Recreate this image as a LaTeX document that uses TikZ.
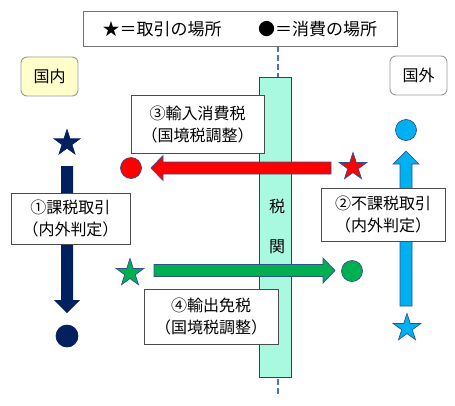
\documentclass[tikz,border=0pt]{standalone}
\usepackage{fontspec}
\setmainfont{Noto Sans CJK JP}
\usetikzlibrary{shapes.geometric}
\definecolor{navy}{HTML}{002060}
\definecolor{redf}{HTML}{FF0000}
\definecolor{greenf}{HTML}{00B050}
\definecolor{bluef}{HTML}{00B0F0}
\definecolor{outl}{HTML}{2F528F}
\definecolor{custf}{HTML}{A9F8E0}
\definecolor{dashc}{HTML}{4472C4}
\definecolor{yelf}{HTML}{FFFFCC}
\tikzset{
  txtbox/.style={draw=black!70, line width=0.9pt, fill=white},
  lbl/.style={font=\fontsize{16}{22}\selectfont, align=center, inner sep=0pt},
  starn/.style={star, star points=5, star point ratio=2.6, minimum size=29pt, inner sep=0pt, draw=outl, line width=0.7pt},
  dotn/.style={circle, minimum size=21pt, inner sep=0pt, draw=outl, line width=0.7pt},
  region/.style={draw=black!40, line width=0.9pt, rounded corners=6pt},
  barrow/.style={draw=outl, line width=0.7pt},
}
\begin{document}
\begin{tikzpicture}[x=1pt,y=-1pt]
\useasboundingbox (0,0) rectangle (455,405);
% customs
\draw[dashc, line width=2pt, dash pattern=on 6pt off 3pt] (278,46) -- (278,77);
\draw[dashc, line width=2pt, dash pattern=on 6pt off 3pt] (278,379) -- (278,395);
\node[draw=black!75, line width=0.9pt, fill=custf, minimum width=32pt, minimum height=300pt, inner sep=0pt] (cust) at (275,227) {};
\node[lbl] (zei) at (277,206) {税};
\node[lbl] (kan) at (277,247) {関};
% legend
\node[draw=black!55, line width=0.9pt, fill=white, minimum width=314pt, minimum height=35pt, inner sep=0pt] (leg) at (240,28.5) {};
\node[inner sep=0pt, font=\fontsize{17}{20}\selectfont] (leg1) at (162,29) {★＝取引の場所};
\node[inner sep=0pt, font=\fontsize{17}{20}\selectfont] (leg2) at (317.5,29) {●＝消費の場所};
% regions
\node[region, fill=yelf, minimum width=57pt, minimum height=39pt, lbl] (dom) at (49.5,76.5) {国内};
\node[region, fill=white, minimum width=57pt, minimum height=39pt, lbl] (for) at (418.5,75.5) {国外};
% navy (1)
\node[starn, fill=navy, draw=navy, minimum size=27pt] (s1) at (67,143) {};
\node[dotn, fill=navy, draw=navy, minimum size=22pt] (c1) at (67,336) {};
\fill[navy] (61,166) -- (73,166) -- (73,300) -- (80,300) -- (67,313) -- (54,300) -- (61,300) -- cycle;
\node[txtbox, minimum width=119pt, minimum height=51pt, inner sep=0pt] (b1) at (70.5,218.5) {};
\node[lbl] at (b1.center) {①課税取引\\（内外判定）};
% blue (2)
\node[starn, fill=bluef] (s2) at (407,328) {};
\node[dotn, fill=bluef] (c2) at (406,130) {};
\draw[barrow, fill=bluef] (400,306) -- (400,164) -- (393,164) -- (406,151) -- (419,164) -- (412,164) -- (412,306) -- cycle;
\node[txtbox, minimum width=124pt, minimum height=53pt, inner sep=0pt] (b2) at (383,214.5) {};
\node[lbl] at (b2.center) {②不課税取引\\（内外判定）};
% red (3)
\node[starn, fill=redf] (s3) at (353,167) {};
\node[dotn, fill=redf] (c3) at (131,168) {};
\draw[barrow, fill=redf] (331,162) -- (163,162) -- (163,155.5) -- (151,168) -- (163,180.5) -- (163,174) -- (331,174) -- cycle;
\node[txtbox, minimum width=133pt, minimum height=58pt, inner sep=0pt] (b3) at (197.5,124) {};
\node[lbl] at (b3.center) {③輸入消費税\\（国境税調整）};
% green (4)
\node[starn, fill=greenf] (s4) at (130,273) {};
\node[dotn, fill=greenf] (c4) at (352,271) {};
\draw[barrow, fill=greenf] (154,264.5) -- (323,264.5) -- (323,258) -- (335,270.5) -- (323,283) -- (323,276.5) -- (154,276.5) -- cycle;
\node[txtbox, minimum width=134pt, minimum height=55pt, inner sep=0pt] (b4) at (211,316.5) {};
\node[lbl] at (b4.center) {④輸出免税\\（国境税調整）};
\end{tikzpicture}
\end{document}
